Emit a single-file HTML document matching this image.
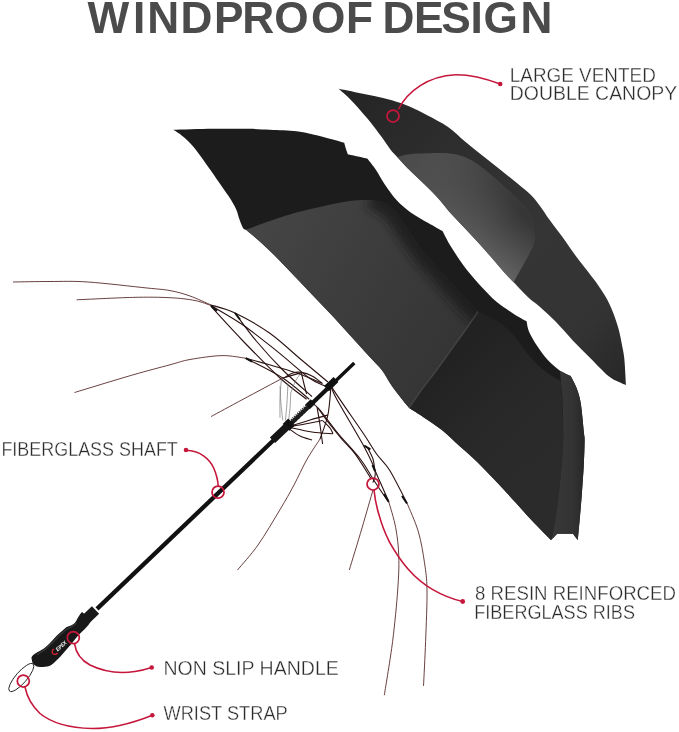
<!DOCTYPE html>
<html><head><meta charset="utf-8"><title>Windproof Design</title>
<style>
html,body{margin:0;padding:0;background:#fff}
svg{display:block}
text{font-family:"Liberation Sans",sans-serif;opacity:0.999}
</style></head><body>
<svg width="679" height="732" viewBox="0 0 679 732">
<defs>
<linearGradient id="gUc" gradientUnits="userSpaceOnUse" x1="340" y1="90" x2="620" y2="380">
 <stop offset="0" stop-color="#242424"/><stop offset="0.3" stop-color="#2e2e2e"/><stop offset="0.6" stop-color="#353535"/><stop offset="0.85" stop-color="#333"/><stop offset="1" stop-color="#282828"/>
</linearGradient>
<linearGradient id="gUcl" gradientUnits="userSpaceOnUse" x1="400" y1="160" x2="520" y2="275">
 <stop offset="0" stop-color="#4b4b4b"/><stop offset="0.5" stop-color="#565656"/><stop offset="1" stop-color="#646464"/>
</linearGradient>
<linearGradient id="gPerp" gradientUnits="userSpaceOnUse" x1="466" y1="230" x2="505" y2="195">
 <stop offset="0" stop-color="#000" stop-opacity="0"/><stop offset="1" stop-color="#000" stop-opacity="0.42"/>
</linearGradient>
<linearGradient id="gLen" gradientUnits="userSpaceOnUse" x1="425" y1="170" x2="495" y2="240">
 <stop offset="0" stop-color="#000"/><stop offset="1" stop-color="#fff"/>
</linearGradient>
<mask id="mLen" maskUnits="userSpaceOnUse" x="380" y="140" width="180" height="160"><rect x="380" y="140" width="180" height="160" fill="url(#gLen)"/></mask>
<clipPath id="cUcl"><path d="M397.2 156.9 C399.2 156.4 404.5 154.8 409.5 154.2 C414.5 153.6 420.8 153.5 427.2 153.3 C433.6 153.2 441.9 152.9 447.7 153.3 C453.5 153.8 457.1 154.4 461.8 156.0 C466.5 157.6 471.0 159.8 476.0 163.0 C481.0 166.2 486.3 170.7 491.9 175.4 C497.5 180.1 504.2 186.3 509.5 191.3 C514.8 196.3 520.1 201.1 523.7 205.4 C527.3 209.7 529.1 211.9 531.0 217.0 C532.9 222.1 534.2 232.8 534.8 236.0 C534.5 237.7 534.5 242.0 533.0 246.0 C531.5 250.0 528.3 255.6 526.0 260.0 C523.7 264.4 521.1 268.8 519.0 272.5 C516.9 276.2 514.5 280.6 513.6 282.2 C511.8 280.3 507.7 276.3 503.0 271.0 C498.3 265.7 491.4 257.3 485.3 250.5 C479.2 243.7 472.5 236.4 466.5 230.0 C460.5 223.6 454.1 217.2 449.5 212.0 C444.9 206.8 442.5 203.2 438.8 199.0 C435.1 194.8 432.1 191.8 427.2 187.0 C422.3 182.2 414.5 175.0 409.5 170.0 C404.5 165.0 399.2 159.1 397.2 156.9 Z"/></clipPath>
<clipPath id="cGp"><path d="M246.0 229.8 C250.0 228.3 261.6 223.9 270.0 221.0 C278.4 218.1 287.7 214.9 296.5 212.5 C305.3 210.1 314.2 208.2 323.0 206.3 C331.8 204.4 342.1 202.1 349.5 201.0 C356.9 199.9 362.8 200.0 367.2 200.0 C371.6 200.0 372.9 200.4 376.0 201.0 C379.1 201.6 384.3 203.1 386.0 203.5 C387.7 204.9 392.9 208.5 396.0 212.0 C399.1 215.5 399.8 217.9 404.3 224.4 C408.8 230.9 416.2 242.6 422.8 251.0 C429.4 259.4 436.9 266.9 444.0 274.8 C451.1 282.7 459.6 292.5 465.3 298.6 C471.0 304.7 475.9 309.4 478.0 311.5 C475.7 314.9 470.8 322.4 464.0 332.0 C457.2 341.6 444.6 359.1 437.4 369.0 C430.2 378.9 425.4 384.7 420.7 391.2 C416.0 397.7 411.1 405.2 409.2 408.0 C407.9 406.4 404.3 402.3 401.2 398.3 C398.1 394.3 393.8 388.7 390.6 384.0 C387.4 379.3 385.5 374.8 381.8 370.0 C378.1 365.2 373.6 361.1 368.4 355.4 C363.2 349.7 356.6 342.5 350.7 336.0 C344.8 329.5 338.9 322.9 333.0 316.6 C327.1 310.3 321.2 304.2 315.3 298.0 C309.4 291.8 303.6 285.6 297.7 279.4 C291.8 273.2 285.9 266.9 280.0 260.9 C274.1 254.9 267.7 248.7 262.0 243.5 C256.3 238.3 248.7 232.1 246.0 229.8 Z"/></clipPath>
<filter id="blur6" filterUnits="userSpaceOnUse" x="330" y="170" width="200" height="190"><feGaussianBlur stdDeviation="5"/></filter>
<linearGradient id="gUcl2" gradientUnits="userSpaceOnUse" x1="400" y1="160" x2="525" y2="270">
 <stop offset="0" stop-color="#000" stop-opacity="0.10"/><stop offset="0.5" stop-color="#fff" stop-opacity="0"/><stop offset="1" stop-color="#fff" stop-opacity="0.10"/>
</linearGradient>
<linearGradient id="gGp" gradientUnits="userSpaceOnUse" x1="260" y1="225" x2="470" y2="340">
 <stop offset="0" stop-color="#454545"/><stop offset="0.5" stop-color="#3c3c3c"/><stop offset="1" stop-color="#343434"/>
</linearGradient>
<linearGradient id="gRp" gradientUnits="userSpaceOnUse" x1="450" y1="360" x2="560" y2="480">
 <stop offset="0" stop-color="#222"/><stop offset="0.5" stop-color="#292929"/><stop offset="1" stop-color="#2b2b2b"/>
</linearGradient>
<linearGradient id="gBand" gradientUnits="userSpaceOnUse" x1="556" y1="450" x2="585" y2="450">
 <stop offset="0" stop-color="#373737"/><stop offset="0.6" stop-color="#333"/><stop offset="1" stop-color="#262626"/>
</linearGradient>
</defs>
<rect width="679" height="732" fill="#fff"/>
<text x="87.6 133.0 147.3 180.5 214.0 242.2 274.2 311.1 346.0 372.0 382.5 414.0 441.2 470.5 483.5 520.4" y="33" font-size="44.2" font-weight="700" fill="#4b4b4b">WINDPROOF DESIGN</text>

<!-- upper canopy -->
<path d="M338.5 88.8 C341.5 89.4 350.6 91.2 356.5 92.4 C362.4 93.6 368.3 94.6 374.2 95.9 C380.1 97.2 386.0 98.5 391.9 100.3 C397.8 102.1 403.6 104.0 409.5 106.5 C415.4 109.0 420.8 111.9 427.2 115.3 C433.6 118.7 441.3 122.4 447.7 126.8 C454.1 131.2 459.4 136.9 465.3 141.8 C471.2 146.7 477.1 151.3 483.0 156.0 C488.9 160.7 494.8 165.3 500.7 170.0 C506.6 174.7 513.4 180.1 518.4 184.2 C523.4 188.3 527.2 191.3 530.7 194.8 C534.2 198.3 536.4 201.2 539.6 205.4 C542.8 209.6 545.8 214.6 549.7 220.0 C553.6 225.4 558.7 231.8 563.0 237.7 C567.3 243.6 571.2 249.7 575.3 255.3 C579.4 260.9 583.9 266.3 587.7 271.3 C591.5 276.3 595.0 280.7 598.3 285.4 C601.5 290.1 604.6 294.5 607.2 299.5 C609.9 304.5 612.3 310.4 614.2 315.4 C616.1 320.4 617.4 324.7 618.7 329.6 C620.0 334.5 621.1 340.2 622.0 345.0 C622.9 349.8 623.6 351.7 624.3 358.4 C625.0 365.1 625.7 380.6 626.0 385.0 C624.8 384.5 621.9 383.5 619.0 382.0 C616.1 380.5 613.1 379.9 608.4 376.0 C603.7 372.1 596.6 364.3 590.7 358.4 C584.8 352.5 578.9 346.9 573.0 340.7 C567.1 334.5 561.2 327.2 555.3 321.3 C549.4 315.4 542.0 308.8 537.7 305.0 C533.4 301.2 533.5 302.3 529.5 298.5 C525.5 294.7 518.0 286.8 513.6 282.2 C509.2 277.6 507.7 276.3 503.0 271.0 C498.3 265.7 491.4 257.3 485.3 250.5 C479.2 243.7 472.5 236.4 466.5 230.0 C460.5 223.6 454.1 217.2 449.5 212.0 C444.9 206.8 442.5 203.2 438.8 199.0 C435.1 194.8 432.1 191.8 427.2 187.0 C422.3 182.2 414.5 175.0 409.5 170.0 C404.5 165.0 400.4 160.4 397.2 156.9 C393.9 153.4 392.6 152.3 390.0 148.9 C387.4 145.5 384.5 141.0 381.3 136.6 C378.1 132.2 374.2 126.8 370.7 122.4 C367.1 118.0 363.8 114.3 360.0 110.0 C356.2 105.7 351.3 100.3 347.7 96.8 C344.1 93.3 340.0 90.1 338.5 88.8 Z" fill="url(#gUc)"/>
<path d="M397.2 156.9 C399.2 156.4 404.5 154.8 409.5 154.2 C414.5 153.6 420.8 153.5 427.2 153.3 C433.6 153.2 441.9 152.9 447.7 153.3 C453.5 153.8 457.1 154.4 461.8 156.0 C466.5 157.6 471.0 159.8 476.0 163.0 C481.0 166.2 486.3 170.7 491.9 175.4 C497.5 180.1 504.2 186.3 509.5 191.3 C514.8 196.3 520.1 201.1 523.7 205.4 C527.3 209.7 529.1 211.9 531.0 217.0 C532.9 222.1 534.2 232.8 534.8 236.0 C534.5 237.7 534.5 242.0 533.0 246.0 C531.5 250.0 528.3 255.6 526.0 260.0 C523.7 264.4 521.1 268.8 519.0 272.5 C516.9 276.2 514.5 280.6 513.6 282.2 C511.8 280.3 507.7 276.3 503.0 271.0 C498.3 265.7 491.4 257.3 485.3 250.5 C479.2 243.7 472.5 236.4 466.5 230.0 C460.5 223.6 454.1 217.2 449.5 212.0 C444.9 206.8 442.5 203.2 438.8 199.0 C435.1 194.8 432.1 191.8 427.2 187.0 C422.3 182.2 414.5 175.0 409.5 170.0 C404.5 165.0 399.2 159.1 397.2 156.9 Z" fill="url(#gUcl)"/>
<g clip-path="url(#cUcl)"><rect x="380" y="140" width="180" height="160" fill="url(#gPerp)" mask="url(#mLen)"/></g>

<!-- lower canopy -->
<path d="M173.3 129.8 C179.9 129.6 200.5 129.0 213.0 128.8 C225.5 128.6 238.9 128.6 248.4 128.8 C257.9 129.0 262.0 129.4 270.0 129.8 C278.0 130.2 289.1 130.4 296.5 131.2 C303.9 132.0 308.3 133.4 314.2 134.7 C320.1 136.0 326.9 137.9 331.9 139.2 C336.9 140.5 342.1 142.1 344.2 142.7 C344.5 143.8 345.4 147.1 346.0 149.0 C346.6 150.9 347.5 153.3 347.8 154.2 C349.5 154.6 354.8 155.8 358.0 156.5 C361.2 157.2 365.7 158.2 367.2 158.6 C368.7 160.5 373.1 165.8 376.0 170.0 C378.9 174.2 381.1 179.0 384.5 184.0 C387.9 189.0 392.1 195.3 396.5 200.0 C400.9 204.7 405.4 208.6 410.7 212.4 C416.0 216.2 423.0 219.9 428.3 223.0 C433.6 226.1 440.1 229.7 442.5 231.0 C443.7 233.2 446.8 239.6 449.5 244.2 C452.2 248.8 455.4 253.7 458.6 258.4 C461.9 263.1 465.0 267.6 469.0 272.5 C473.0 277.4 478.0 283.1 482.6 288.0 C487.2 292.9 491.2 297.4 496.5 301.8 C501.8 306.2 509.2 310.9 514.2 314.2 C519.2 317.4 524.5 320.1 526.6 321.3 C527.0 323.1 527.4 327.8 529.2 331.9 C531.0 336.0 534.1 341.3 537.2 346.0 C540.3 350.7 544.0 355.9 547.8 360.0 C551.6 364.1 556.2 368.0 560.0 370.7 C563.8 373.4 568.9 375.1 570.7 376.0 C571.3 377.2 573.1 380.3 574.3 383.0 C575.5 385.7 576.9 388.3 578.0 392.0 C579.1 395.7 580.0 398.1 581.0 405.0 C582.0 411.9 583.4 427.8 584.0 433.6 C584.6 439.4 584.6 434.5 584.6 440.0 C584.6 445.5 584.2 457.7 583.7 466.5 C583.2 475.3 582.5 484.8 581.9 493.0 C581.3 501.2 580.7 508.2 580.0 516.0 C579.3 523.8 578.2 536.0 577.8 540.0 C577.0 539.0 573.8 534.8 573.0 533.7 C570.4 533.7 559.8 533.7 557.2 533.7 C556.2 534.8 552.0 539.0 551.0 540.0 C548.2 537.2 540.0 529.1 534.2 523.0 C528.5 516.9 522.4 510.1 516.5 503.6 C510.6 497.1 505.4 491.1 498.8 484.2 C492.2 477.3 483.8 468.4 477.2 462.0 C470.6 455.6 465.4 451.3 459.5 446.0 C453.6 440.7 447.8 434.7 441.9 430.0 C436.0 425.3 429.6 421.4 424.2 417.7 C418.8 414.0 411.7 409.6 409.2 408.0 C407.9 406.4 404.3 402.3 401.2 398.3 C398.1 394.3 393.8 388.7 390.6 384.0 C387.4 379.3 385.5 374.8 381.8 370.0 C378.1 365.2 373.6 361.1 368.4 355.4 C363.2 349.7 356.6 342.5 350.7 336.0 C344.8 329.5 338.9 322.9 333.0 316.6 C327.1 310.3 321.2 304.2 315.3 298.0 C309.4 291.8 303.6 285.6 297.7 279.4 C291.8 273.2 285.9 266.9 280.0 260.9 C274.1 254.9 267.7 248.7 262.0 243.5 C256.3 238.3 248.7 232.1 246.0 229.8 C245.5 229.5 244.1 229.7 243.0 228.0 C241.9 226.3 240.7 222.8 239.5 219.6 C238.3 216.4 237.8 212.8 236.0 209.0 C234.2 205.2 232.1 201.6 228.9 196.6 C225.7 191.6 220.7 184.8 216.6 178.9 C212.5 173.0 208.0 166.6 204.2 161.3 C200.4 156.0 197.1 151.2 193.6 147.1 C190.1 143.0 186.4 139.4 183.0 136.5 C179.6 133.6 174.9 130.9 173.3 129.8 Z" fill="#1c1c1c"/>
<path d="M246.0 229.8 C250.0 228.3 261.6 223.9 270.0 221.0 C278.4 218.1 287.7 214.9 296.5 212.5 C305.3 210.1 314.2 208.2 323.0 206.3 C331.8 204.4 342.1 202.1 349.5 201.0 C356.9 199.9 362.8 200.0 367.2 200.0 C371.6 200.0 372.9 200.4 376.0 201.0 C379.1 201.6 384.3 203.1 386.0 203.5 C387.7 204.9 392.9 208.5 396.0 212.0 C399.1 215.5 399.8 217.9 404.3 224.4 C408.8 230.9 416.2 242.6 422.8 251.0 C429.4 259.4 436.9 266.9 444.0 274.8 C451.1 282.7 459.6 292.5 465.3 298.6 C471.0 304.7 475.9 309.4 478.0 311.5 C475.7 314.9 470.8 322.4 464.0 332.0 C457.2 341.6 444.6 359.1 437.4 369.0 C430.2 378.9 425.4 384.7 420.7 391.2 C416.0 397.7 411.1 405.2 409.2 408.0 C407.9 406.4 404.3 402.3 401.2 398.3 C398.1 394.3 393.8 388.7 390.6 384.0 C387.4 379.3 385.5 374.8 381.8 370.0 C378.1 365.2 373.6 361.1 368.4 355.4 C363.2 349.7 356.6 342.5 350.7 336.0 C344.8 329.5 338.9 322.9 333.0 316.6 C327.1 310.3 321.2 304.2 315.3 298.0 C309.4 291.8 303.6 285.6 297.7 279.4 C291.8 273.2 285.9 266.9 280.0 260.9 C274.1 254.9 267.7 248.7 262.0 243.5 C256.3 238.3 248.7 232.1 246.0 229.8 Z" fill="url(#gGp)"/>
<g clip-path="url(#cGp)"><path d="M372.0 196.0 C374.3 197.2 382.0 200.8 386.0 203.5 C390.0 206.2 392.9 208.5 396.0 212.0 C399.1 215.5 399.8 217.9 404.3 224.4 C408.8 230.9 416.2 242.6 422.8 251.0 C429.4 259.4 436.9 266.9 444.0 274.8 C451.1 282.7 459.6 292.5 465.3 298.6 C471.0 304.7 473.9 307.6 478.0 311.5 C482.1 315.4 488.0 320.2 490.0 322.0" fill="none" stroke="#1c1c1c" stroke-width="24" filter="url(#blur6)" opacity="0.85"/></g>
<path d="M478.0 311.5 C481.7 313.4 493.8 318.8 500.0 323.0 C506.2 327.2 510.5 332.0 515.0 337.0 C519.5 342.0 522.8 348.0 527.0 353.0 C531.2 358.0 535.8 363.2 540.0 367.0 C544.2 370.8 548.5 373.7 552.0 376.0 C555.5 378.3 559.5 380.2 561.0 381.0 C562.6 406.7 563.4 428.9 563.3 440.0 C563.1 451.1 562.3 457.7 561.6 466.5 C560.9 475.3 559.9 484.2 558.9 493.0 C557.9 501.8 556.6 512.0 555.4 519.5 C554.2 527.0 552.6 534.6 551.9 538.0 C551.2 541.4 551.1 539.7 551.0 540.0 C548.2 537.2 540.0 529.1 534.2 523.0 C528.5 516.9 522.4 510.1 516.5 503.6 C510.6 497.1 505.4 491.1 498.8 484.2 C492.2 477.3 483.8 468.4 477.2 462.0 C470.6 455.6 465.4 451.3 459.5 446.0 C453.6 440.7 447.8 434.7 441.9 430.0 C436.0 425.3 429.6 421.4 424.2 417.7 C418.8 414.0 411.7 409.6 409.2 408.0 C411.1 405.2 416.0 397.7 420.7 391.2 C425.4 384.7 430.2 378.9 437.4 369.0 C444.6 359.1 457.2 341.6 464.0 332.0 C470.8 322.4 475.7 314.9 478.0 311.5 Z" fill="url(#gRp)"/>
<path d="M560.0 370.7 C561.8 371.6 568.9 375.1 570.7 376.0 C571.3 377.2 573.1 380.3 574.3 383.0 C575.5 385.7 576.9 388.3 578.0 392.0 C579.1 395.7 580.0 398.1 581.0 405.0 C582.0 411.9 583.4 427.8 584.0 433.6 C584.6 439.4 584.6 434.5 584.6 440.0 C584.6 445.5 584.2 457.7 583.7 466.5 C583.2 475.3 582.5 484.8 581.9 493.0 C581.3 501.2 580.7 508.2 580.0 516.0 C579.3 523.8 578.2 536.0 577.8 540.0 C577.0 539.0 573.8 534.8 573.0 533.7 C570.4 533.7 559.8 533.7 557.2 533.7 C556.2 534.8 552.0 539.0 551.0 540.0 C551.1 539.7 551.2 541.4 551.9 538.0 C552.6 534.6 554.2 527.0 555.4 519.5 C556.6 512.0 557.9 501.8 558.9 493.0 C559.9 484.2 560.9 475.3 561.6 466.5 C562.3 457.7 563.1 451.1 563.3 440.0 C563.4 428.9 563.0 411.6 562.5 400.0 C562.0 388.4 560.4 375.6 560.0 370.7 Z" fill="url(#gBand)"/>
<path d="M478.0 311.5 C475.7 314.9 470.8 322.4 464.0 332.0 C457.2 341.6 444.6 359.1 437.4 369.0 C430.2 378.9 425.4 384.7 420.7 391.2 C416.0 397.7 411.1 405.2 409.2 408.0" fill="none" stroke="#4e4e4e" stroke-width="1.3" opacity="0.75"/>

<!-- frame wires -->
<path d="M211.0 305.0 C215.0 306.3 225.2 308.3 235.0 313.0 C244.8 317.7 258.5 325.2 269.5 333.0 C280.5 340.8 291.3 351.3 301.0 359.5 C310.7 367.7 323.4 378.2 327.9 382.0" fill="none" stroke="#2a1010" stroke-width="1.1"/>
<path d="M211.0 305.5 C216.3 308.8 231.9 317.3 243.0 325.0 C254.1 332.7 266.4 342.8 277.5 351.6 C288.6 360.4 301.4 372.3 309.3 378.0 C317.2 383.7 322.4 384.7 325.0 386.0" fill="none" stroke="#2a1010" stroke-width="1.1"/>
<path d="M211.0 306.5 C216.3 312.2 231.5 329.1 243.0 341.0 C254.5 352.9 269.4 368.3 280.0 378.0 C290.6 387.7 302.2 395.8 306.6 399.3" fill="none" stroke="#2a1010" stroke-width="1.1"/>
<path d="M235.0 313.0 C238.6 317.7 248.3 331.5 256.3 341.0 C264.3 350.5 273.5 360.7 282.8 370.0 C292.1 379.3 307.1 392.2 312.0 396.6" fill="none" stroke="#2a1010" stroke-width="1.1"/>
<path d="M245.7 358.2 C249.7 359.3 261.1 362.4 269.5 364.8 C277.9 367.2 287.1 369.7 296.0 372.8 C304.9 375.9 318.2 381.6 322.6 383.4" fill="none" stroke="#2a1010" stroke-width="1.1"/>
<path d="M245.7 358.2 C251.9 361.5 272.2 371.1 282.8 378.0 C293.4 384.9 304.9 395.8 309.3 399.3" fill="none" stroke="#2a1010" stroke-width="1.1"/>
<path d="M282.8 378.0 C285.9 377.1 298.2 373.7 301.3 372.8" fill="none" stroke="#2a1010" stroke-width="1.1"/>
<path d="M285.4 377.0 C286.7 376.3 290.4 373.8 293.0 373.0 C295.6 372.2 298.1 371.9 301.3 372.4 C304.5 372.9 308.6 374.2 312.0 376.0 C315.4 377.8 320.3 381.8 322.0 383.0" fill="none" stroke="#2a1010" stroke-width="1.1"/>
<path d="M301.3 372.8 C301.8 374.7 303.1 380.5 304.0 384.0 C304.9 387.5 306.2 392.3 306.6 394.0" fill="none" stroke="#2a1010" stroke-width="1.1"/>
<path d="M331.0 386.0 C330.5 390.8 329.7 406.2 327.9 415.0 C326.1 423.8 321.3 435.0 320.0 439.0" fill="none" stroke="#2a1010" stroke-width="1.1"/>
<path d="M317.0 407.0 C317.5 410.0 319.1 418.8 320.0 425.0 C320.9 431.2 322.2 440.8 322.6 444.0" fill="none" stroke="#2a1010" stroke-width="1.1"/>
<path d="M332.0 384.0 C332.3 385.1 328.6 382.1 334.0 390.6 C339.4 399.1 357.1 424.2 364.2 434.8 C371.3 445.4 372.4 448.1 376.6 454.0 C380.8 459.9 384.4 461.8 389.5 470.0 C394.6 478.2 404.1 497.5 407.0 503.0" fill="none" stroke="#2a1010" stroke-width="1.1"/>
<path d="M331.0 385.0 C331.8 387.1 330.8 387.9 336.0 397.7 C341.2 407.5 355.9 431.6 362.4 443.6 C368.9 455.7 373.0 463.5 374.8 470.0 C376.6 476.5 373.3 480.4 373.0 482.5" fill="none" stroke="#2a1010" stroke-width="1.1"/>
<path d="M311.0 402.0 C312.5 403.3 315.6 404.8 320.0 410.0 C324.4 415.2 330.9 424.8 337.7 433.0 C344.5 441.2 354.8 451.8 360.7 459.5 C366.6 467.2 368.6 472.2 373.0 479.0 C377.4 485.8 384.6 496.3 387.2 500.0 C389.8 503.7 388.3 500.8 388.5 501.0" fill="none" stroke="#2a1010" stroke-width="1.1"/>
<path d="M318.0 408.0 C319.5 410.1 323.1 415.6 327.0 420.7 C330.9 425.8 336.5 432.7 341.2 438.3 C345.9 443.9 350.3 447.4 355.3 454.2 C360.3 461.0 368.6 474.9 371.3 479.0" fill="none" stroke="#2a1010" stroke-width="1.1"/>
<path d="M367.7 448.0 C368.6 449.8 371.8 455.3 373.0 459.0 C374.2 462.7 374.5 468.2 374.8 470.0" fill="none" stroke="#2a1010" stroke-width="1.1"/>
<path d="M374.8 470.0 C375.8 472.3 378.7 478.8 381.0 484.0 C383.3 489.2 387.2 498.2 388.5 501.0" fill="none" stroke="#2a1010" stroke-width="1.1"/>
<path d="M288.0 427.0 C290.8 426.5 299.2 425.1 305.0 424.0 C310.8 422.9 319.7 421.1 322.6 420.5" fill="none" stroke="#2a1010" stroke-width="1.1"/>
<path d="M288.0 427.0 C291.7 425.8 303.4 422.0 310.0 420.0 C316.6 418.0 324.9 415.8 327.9 415.0" fill="none" stroke="#2a1010" stroke-width="1.1"/>
<path d="M288.0 427.0 C292.0 427.8 304.5 430.9 312.0 432.0 C319.5 433.1 329.5 433.5 333.0 433.8" fill="none" stroke="#2a1010" stroke-width="1.1"/>
<path d="M288.0 428.0 C290.0 429.3 296.0 434.0 300.0 436.0 C304.0 438.0 310.0 439.3 312.0 440.0" fill="none" stroke="#2a1010" stroke-width="1.1"/>
<path d="M322.6 420.5 C323.8 421.8 328.3 425.8 330.0 428.0 C331.7 430.2 332.5 432.8 333.0 433.8" fill="none" stroke="#2a1010" stroke-width="1.1"/>
<path d="M13.0 282.0 C19.2 281.9 37.5 281.5 50.0 281.5 C62.5 281.5 71.8 280.9 88.0 282.0 C104.2 283.1 133.3 286.6 147.0 288.0 C160.7 289.4 162.8 289.3 170.0 290.6 C177.2 291.9 183.2 293.6 190.0 296.0 C196.8 298.4 207.5 303.5 211.0 305.0" fill="none" stroke="#4e1e1e" stroke-width="0.85"/>
<path d="M76.6 299.8 C85.9 299.4 116.9 297.8 132.5 297.4 C148.1 297.0 159.6 297.2 170.0 297.7 C180.4 298.2 188.2 299.2 195.0 300.5 C201.8 301.8 208.3 304.7 211.0 305.5" fill="none" stroke="#4e1e1e" stroke-width="0.85"/>
<path d="M74.5 392.5 C84.2 389.6 116.6 379.6 132.5 375.0 C148.4 370.4 160.4 367.4 170.0 364.8 C179.6 362.2 181.4 361.0 190.0 359.5 C198.6 358.0 212.5 355.8 221.8 355.6 C231.1 355.4 241.7 357.8 245.7 358.2" fill="none" stroke="#4e1e1e" stroke-width="0.85"/>
<path d="M211.2 416.5 C216.5 413.6 231.1 405.7 243.0 399.3 C254.9 392.9 276.2 381.6 282.8 378.0" fill="none" stroke="#4e1e1e" stroke-width="0.85"/>
<path d="M320.0 439.0 C317.8 442.5 310.9 452.3 306.6 460.0 C302.3 467.7 298.4 476.7 294.0 485.0 C289.6 493.3 286.0 499.6 280.0 509.6 C274.0 519.6 265.1 534.9 258.0 545.0 C250.9 555.1 240.9 565.8 237.5 570.0" fill="none" stroke="#4e1e1e" stroke-width="0.85"/>
<path d="M373.0 490.0 C371.2 496.3 365.9 514.7 362.0 528.0 C358.1 541.3 351.4 563.0 349.3 570.0" fill="none" stroke="#4e1e1e" stroke-width="0.85"/>
<path d="M388.5 501.0 C389.7 505.4 394.0 518.4 395.7 527.7 C397.4 537.0 398.5 546.2 398.8 556.6 C399.1 567.0 398.7 575.9 397.7 590.0 C396.7 604.1 394.8 624.0 392.6 641.5 C390.4 659.0 385.7 686.2 384.3 695.2" fill="none" stroke="#4e1e1e" stroke-width="0.85"/>
<path d="M407.0 503.0 C408.9 507.8 415.5 521.9 418.4 531.9 C421.3 541.9 423.1 553.1 424.5 562.8 C425.9 572.5 426.8 576.9 427.0 590.0 C427.2 603.1 426.2 625.5 425.6 641.5 C425.0 657.5 423.9 678.5 423.5 685.9" fill="none" stroke="#4e1e1e" stroke-width="0.85"/>
<path d="M280.0 386.0 C280.2 389.0 280.5 398.2 281.0 404.0 C281.5 409.8 282.5 417.8 282.8 420.5" fill="none" stroke="#777" stroke-width="0.7"/>
<path d="M288.0 383.4 C287.8 386.5 287.4 395.8 287.0 402.0 C286.6 408.2 285.7 417.4 285.4 420.5" fill="none" stroke="#777" stroke-width="0.7"/>
<path d="M290.7 393.0 C290.6 395.5 290.4 403.3 290.0 408.0 C289.6 412.7 288.8 418.8 288.5 421.0" fill="none" stroke="#777" stroke-width="0.7"/>
<path d="M281.5 378.0 C281.2 381.3 280.2 391.4 280.0 398.0 C279.8 404.6 280.0 414.6 280.0 417.9" fill="none" stroke="#777" stroke-width="0.7"/>
<path d="M301.3 372.8 C300.4 374.0 297.8 376.6 296.0 380.0 C294.2 383.4 291.6 390.8 290.7 393.0" fill="none" stroke="#777" stroke-width="0.7"/>
<line x1="211" y1="305.5" x2="217" y2="311" stroke="#111" stroke-width="2"/>
<line x1="235" y1="313" x2="240" y2="319.5" stroke="#111" stroke-width="2"/>
<line x1="245.7" y1="358.2" x2="252" y2="361.5" stroke="#111" stroke-width="2"/>
<line x1="364.2" y1="445.7" x2="370.4" y2="449.3" stroke="#111" stroke-width="2"/>
<line x1="372.5" y1="465" x2="375" y2="471" stroke="#111" stroke-width="2"/>
<line x1="384" y1="494" x2="388.5" y2="501.5" stroke="#111" stroke-width="2"/>
<line x1="402" y1="496" x2="407" y2="503.5" stroke="#111" stroke-width="2"/>

<!-- shaft -->
<line x1="354.3" y1="363" x2="334" y2="382.4" stroke="#111" stroke-width="3.4"/>
<line x1="336" y1="380.5" x2="97" y2="608.9" stroke="#111" stroke-width="4.3"/>
<line x1="336" y1="379.5" x2="326.5" y2="388.6" stroke="#111" stroke-width="7"/>
<line x1="313" y1="401.5" x2="307.5" y2="406.8" stroke="#111" stroke-width="6.5"/>
<line x1="307.5" y1="406.8" x2="290" y2="423.5" stroke="#2a2a2a" stroke-width="5.6" stroke-dasharray="1.1 1.1"/>
<line x1="291.5" y1="422" x2="286" y2="427.3" stroke="#111" stroke-width="9.5"/>
<line x1="288" y1="425.4" x2="272.5" y2="440.2" stroke="#161616" stroke-width="7.6"/>
<!-- collar + handle -->
<line x1="95.5" y1="610" x2="84" y2="621" stroke="#181818" stroke-width="10.5"/>
<path d="M82 612 C78 616 77 621 74.2 623.6 C70 626.5 68 626 65.4 628 C61 632 58 634 54.8 637.7 C51 642 48 645 44.2 648.3 C40 651 38 651.5 35.3 653.6 C32 656 31 657 31.8 659.5 C32 662 32.5 663 33.6 664.2 C36 666.5 38 667 40.6 666.9 C45 667 48 667 51.3 665 C55 662 57 660 60 657 C64 652.5 67 649 70.7 644.8 C73 642 75 639 77.8 636 C81 632.5 84 630 86.6 627 C89 624.5 90.5 622 91.5 619.5 Z" fill="#181818"/>
<path d="M76 623.5 C72 627 69 627.5 66.5 629.5 C62 633 59 635.5 56 639 C52 643 49 646 45.5 649 C42 651.5 40 652.5 37.5 654.5" fill="none" stroke="#343434" stroke-width="1.6" stroke-linecap="round"/>
<g transform="translate(53.5,653) rotate(-43)">
 <path d="M3 -2.6 A2.8 2.8 0 1 0 3 2.6" fill="none" stroke="#e0222e" stroke-width="1.3"/>
 <text x="4.2" y="1.9" font-size="5.4" font-weight="700" font-style="italic" fill="#fff" textLength="12.5" lengthAdjust="spacingAndGlyphs">EPEX</text>
</g>
<!-- wrist strap -->
<ellipse cx="21.3" cy="677.5" rx="18" ry="5.6" transform="rotate(-49 21.3 677.5)" fill="none" stroke="#222" stroke-width="0.9"/>

<!-- callouts -->
<g fill="none" stroke="#c5173b" stroke-width="1.6" stroke-linecap="round">
 <circle cx="393" cy="116" r="6" stroke-width="1.75"/>
 <path d="M398.5 109 C408 91 428 76 455.5 74.7 C472 74.5 487 79 500.2 84"/>
 <circle cx="218" cy="492.2" r="6" stroke-width="1.75"/>
 <path d="M186 450.3 C200 450.5 209.5 459 213.7 468 C216.7 475 217.9 481 218.2 485.8"/>
 <circle cx="373" cy="484" r="6" stroke-width="1.75"/>
 <path d="M374 490 C375 500 376.5 507 379.2 515.4 C382 526 385 533 389.5 542.2 C395 552 400 560 408 569 C415 577 423 584 432.8 589.6 C442 595 452 599 462.7 601.5"/>
 <circle cx="73.3" cy="637.7" r="6" stroke-width="1.75"/>
 <path d="M74.6 643.8 C76 654 81 660 90 665 C104 672 121 673.5 135 671.5 C142 670.5 147 669 151.7 667.5"/>
 <circle cx="23.3" cy="681" r="6" stroke-width="1.75"/>
 <path d="M25 687.2 C27 697 32 706 40 713.5 C54 725 72 728 92 728.5 C112 728.5 133 723 152.3 715.2"/>
</g>
<g fill="#c5173b">
 <circle cx="500.2" cy="84" r="2.3"/><circle cx="186" cy="450" r="2.3"/><circle cx="462.7" cy="601.5" r="2.4"/><circle cx="151.7" cy="667.5" r="2.3"/><circle cx="152.3" cy="715.2" r="2.3"/>
</g>

<!-- labels -->
<text x="509.8" y="81.5" font-size="19.6" font-weight="400" fill="#2b2b2b" stroke="#fff" stroke-width="0.35" textLength="146" lengthAdjust="spacingAndGlyphs">LARGE VENTED</text>
<text x="509.8" y="100" font-size="19.6" font-weight="400" fill="#2b2b2b" stroke="#fff" stroke-width="0.35" textLength="167.4" lengthAdjust="spacingAndGlyphs">DOUBLE CANOPY</text>
<text x="1.4" y="456" font-size="19.6" font-weight="400" fill="#2b2b2b" stroke="#fff" stroke-width="0.35" textLength="176.4" lengthAdjust="spacingAndGlyphs">FIBERGLASS SHAFT</text>
<text x="475" y="599.8" font-size="19.6" font-weight="400" fill="#2b2b2b" stroke="#fff" stroke-width="0.35" textLength="201" lengthAdjust="spacingAndGlyphs">8 RESIN REINFORCED</text>
<text x="474.2" y="618.8" font-size="19.6" font-weight="400" fill="#2b2b2b" stroke="#fff" stroke-width="0.35" textLength="160.8" lengthAdjust="spacingAndGlyphs">FIBERGLASS RIBS</text>
<text x="163.4" y="675.3" font-size="19.6" font-weight="400" fill="#2b2b2b" stroke="#fff" stroke-width="0.35" textLength="175.4" lengthAdjust="spacingAndGlyphs">NON SLIP HANDLE</text>
<text x="163.5" y="719.9" font-size="19.6" font-weight="400" fill="#2b2b2b" stroke="#fff" stroke-width="0.35" textLength="124.2" lengthAdjust="spacingAndGlyphs">WRIST STRAP</text>
</svg>
</body></html>
